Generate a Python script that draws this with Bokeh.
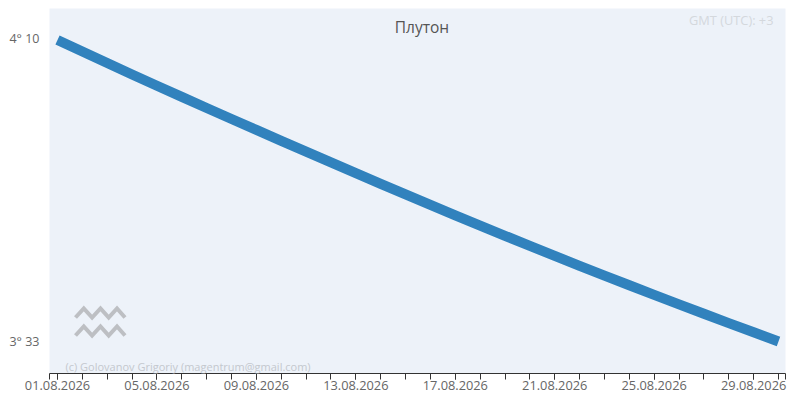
from bokeh.plotting import figure
from bokeh.models import Range1d, FixedTicker, Label
from bokeh.embed import file_html
from bokeh.resources import INLINE

days = list(range(1, 31))
dates = [f"{d:02d}.08.2026" for d in days]
# Pluto's longitude in degrees within the sign
deg = [4.1667, 4.1432, 4.1197, 4.0963, 4.0732, 4.0503, 4.0276, 4.0051, 3.9828, 3.9605,
       3.9384, 3.9163, 3.8945, 3.8726, 3.8509, 3.8294, 3.8081, 3.7871, 3.7662, 3.7456,
       3.7251, 3.7048, 3.6848, 3.6650, 3.6453, 3.6259, 3.6067, 3.5876, 3.5688, 3.5500]
y_ticks = [3.55, 4.17]
y_labels = ["3° 33", "4° 10"]
title = "Плутон"
gmt = "GMT (UTC): +3"
credit = "(c) Golovanov Grigoriy (magentrum@gmail.com)"

L, T, FW, FH = 49, 8, 736, 365
xs, xe = 1 - 8 / 24.86, 30 + 7 / 24.86
k = 488.9
ys, ye = 3.55 - 32 / k, 4.1667 + 31.5 / k

p = figure(width=787, height=399, output_backend="svg", toolbar_location=None,
           x_range=Range1d(xs, xe), y_range=Range1d(ys, ye),
           min_border_left=L, min_border_right=2, min_border_top=T, min_border_bottom=26,
           background_fill_color="#edf2f9", outline_line_color=None)
p.grid.visible = False

ax = p.xaxis[0]
ax.ticker = FixedTicker(ticks=days[::4], minor_ticks=[xs] + days + [xe])
ax.major_label_overrides = {d: s for d, s in zip(days, dates)}
ax.major_label_text_font = "Open Sans"
ax.major_label_text_font_size = "12.8px"
ax.major_label_text_color = "#666666"
ax.major_label_standoff = 1
ax.axis_line_color = "#333333"
ax.major_tick_line_color = "#333333"
ax.minor_tick_line_color = "#333333"
ax.major_tick_in = 0
ax.minor_tick_in = 0
ax.major_tick_out = 6
ax.minor_tick_out = 6

ay = p.yaxis[0]
ay.ticker = FixedTicker(ticks=y_ticks)
ay.major_label_overrides = dict(zip(y_ticks, y_labels))
ay.major_label_text_font = "Open Sans"
ay.major_label_text_font_size = "12.5px"
ay.major_label_text_color = "#666666"
ay.axis_line_color = None
ay.major_tick_line_color = None
ay.minor_tick_line_color = None
ay.major_label_standoff = 4

p.line(days, deg, line_color="#3182bd", line_width=10, line_cap="butt", line_join="round")

# sign glyph (Aquarius): two zigzags, placed by pixel position inside the frame
def to_x(px):
    return xs + (px - L) / FW * (xe - xs)
def to_y(py):
    return ye - (py - T) / FH * (ye - ys)
for top in (312, 330):
    zx = [75, 75 + 8.3, 75 + 16.6, 75 + 25, 75 + 33.2, 75 + 41.5, 75 + 49.5]
    zy = [top + 5, top - 4, top + 5, top - 4, top + 5, top - 4, top + 5]
    p.line([to_x(v) for v in zx], [to_y(v) for v in zy], line_color="#bdbfc3", line_width=4,
           line_join="miter", line_cap="butt")

# Label screen positions are measured from the frame's lower-left corner
def label(px, py, text, size, color, align):
    p.add_layout(Label(x=px - L, y=T + FH - py, x_units="screen", y_units="screen", text=text,
                       text_font="Open Sans", text_font_size=size, text_color=color,
                       text_align=align, text_baseline="middle"))
label(421.5, 26, title, "15.5px", "#555555", "center")
label(773, 19, gmt, "12.8px", "#d4d8dd", "right")
label(65, 365.5, credit, "11px", "#c4c8ce", "left")

open("out.html", "w").write(file_html(p, INLINE))
